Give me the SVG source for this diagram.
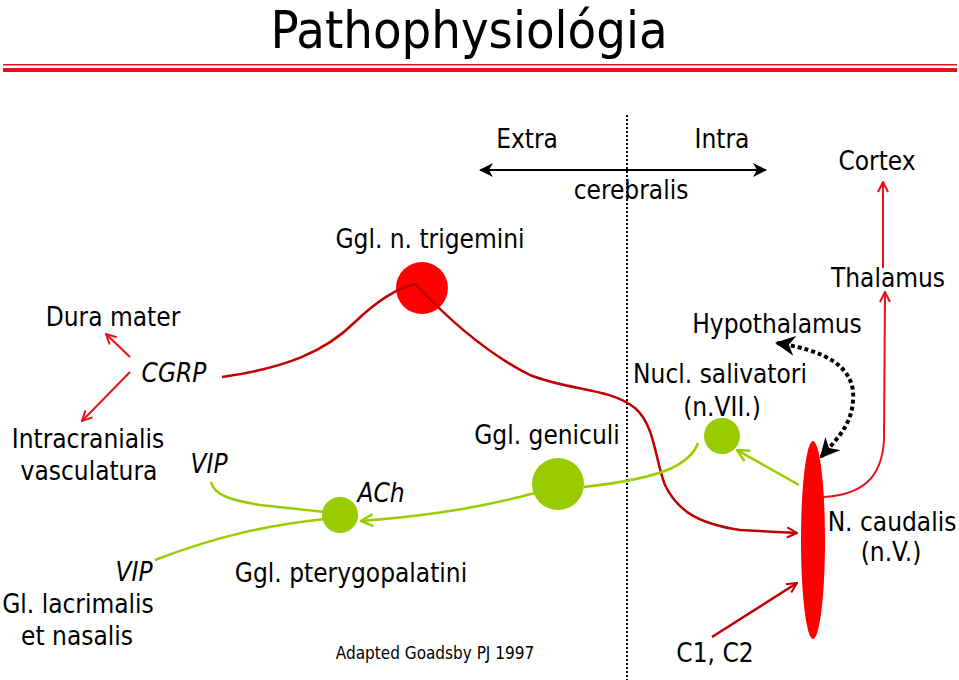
<svg xmlns="http://www.w3.org/2000/svg" width="959" height="680" viewBox="0 0 959 680">
<defs>
<style>
text{font-family:"DejaVu Sans Condensed","DejaVu Sans",sans-serif;fill:#000;font-size:26px}
.it{font-style:italic}
.dr{fill:none;stroke:#c00000;stroke-width:2.5}
.br{fill:none;stroke:#e8101a;stroke-width:2}
.gr{fill:none;stroke:#99cc00;stroke-width:2.5}
.gn{fill:#99cc00}
.rd{fill:#ff0000}
</style>
<marker id="aDr" viewBox="0 0 12 12" refX="11" refY="6" markerWidth="12" markerHeight="12" markerUnits="userSpaceOnUse" orient="auto"><path d="M1,1 L11,6 L1,11" fill="none" stroke="#c00000" stroke-width="2"/></marker>
<marker id="aBr" viewBox="0 0 12 12" refX="11" refY="6" markerWidth="12" markerHeight="12" markerUnits="userSpaceOnUse" orient="auto"><path d="M1,1 L11,6 L1,11" fill="none" stroke="#e8101a" stroke-width="2"/></marker>
<marker id="aGr" viewBox="0 0 14 14" refX="13" refY="7" markerWidth="14" markerHeight="14" markerUnits="userSpaceOnUse" orient="auto"><path d="M1,1 L13,7 L1,13" fill="none" stroke="#99cc00" stroke-width="2.5"/></marker>
<marker id="aBk" viewBox="0 0 14 14" refX="13" refY="7" markerWidth="14" markerHeight="14" markerUnits="userSpaceOnUse" orient="auto-start-reverse"><path d="M0,0 L14,7 L0,14 L4,7 Z" fill="#000"/></marker>
<marker id="aBkD" viewBox="0 0 20 20" refX="18" refY="10" markerWidth="20" markerHeight="20" markerUnits="userSpaceOnUse" orient="auto-start-reverse"><path d="M0,0 L20,10 L0,20 L6,10 Z" fill="#000"/></marker>
</defs>
<rect width="959" height="680" fill="#fff"/>

<g id="title">
<text x="469" y="48" text-anchor="middle" style="font-size:52px">Pathophysiológia</text>
<rect x="3" y="64" width="954" height="1.5" fill="#e8101a"/>
<rect x="3" y="68" width="954" height="4" fill="#e8101a"/>
</g>

<g id="legend">
<text x="527" y="148" text-anchor="middle">Extra</text>
<text x="722" y="148" text-anchor="middle">Intra</text>
<text x="631" y="199" text-anchor="middle">cerebralis</text>
<line x1="627" y1="115" x2="627" y2="680" stroke="#000" stroke-width="2" stroke-dasharray="2,2"/>
<line x1="480" y1="170" x2="766" y2="170" stroke="#000" stroke-width="2" marker-start="url(#aBk)" marker-end="url(#aBk)"/>
</g>

<g id="ggl-trigemini">
<circle class="rd" cx="422" cy="288" r="26"/>
<text x="430" y="248" text-anchor="middle">Ggl. n. trigemini</text>
</g>

<g id="connectors">
<path class="dr" d="M222,377 C285,368 325,352 355,322 C380,298 398,288 415,284"/>
<path class="dr" d="M415,284 C440,310 480,350 530,375 C570,391 610,388 635,408 C655,425 655,460 665,485 C678,512 700,524 740,530 L797,533" marker-end="url(#aDr)"/>
<path class="dr" d="M712,637 L797,583" marker-end="url(#aDr)"/>
<path class="br" d="M823,497 C862,495 882,478 884,440 L885,292" marker-end="url(#aBr)"/>
<path class="br" d="M883,268 L883,182" marker-end="url(#aBr)"/>
<path class="br" d="M130,357 L106,334" marker-end="url(#aBr)"/>
<path class="br" d="M130,372 L82,421" marker-end="url(#aBr)"/>
<path class="gr" d="M211,482 C214,495 230,500 260,505 L325,512"/>
<path class="gr" d="M325,519 C270,525 220,535 155,560"/>
<path class="gr" d="M535,493 C490,505 440,515 361,521" marker-end="url(#aGr)"/>
<path class="gr" d="M584,487 C620,483 650,478 672,468 C688,460 695,452 698,443"/>
<path class="gr" d="M799,485 L737,450" marker-end="url(#aGr)"/>
<path d="M777,343 C822,350 856,365 853,400 C852,425 836,440 821,457" fill="none" stroke="#000" stroke-width="4" stroke-dasharray="4,3" marker-start="url(#aBkD)" marker-end="url(#aBkD)"/>
</g>

<g id="ggl-pterygopalatini">
<circle class="gn" cx="340" cy="515" r="18"/>
<text x="351" y="582" text-anchor="middle">Ggl. pterygopalatini</text>
</g>
<g id="ggl-geniculi">
<circle class="gn" cx="558" cy="484" r="26"/>
<text x="547" y="444" text-anchor="middle">Ggl. geniculi</text>
</g>
<g id="nucl-salivatori">
<circle class="gn" cx="722" cy="436" r="18"/>
<text x="720" y="383" text-anchor="middle">Nucl. salivatori</text>
<text x="722" y="416" text-anchor="middle">(n.VII.)</text>
</g>
<g id="n-caudalis">
<ellipse class="rd" cx="813" cy="540" rx="12" ry="99"/>
<text x="892" y="531" text-anchor="middle">N. caudalis</text>
<text x="891" y="561" text-anchor="middle">(n.V.)</text>
</g>
<g id="hypothalamus"><text x="777" y="333" text-anchor="middle">Hypothalamus</text></g>
<g id="thalamus"><text x="888" y="287" text-anchor="middle">Thalamus</text></g>
<g id="cortex"><text x="877" y="170" text-anchor="middle">Cortex</text></g>
<g id="dura-mater"><text x="113" y="326" text-anchor="middle">Dura mater</text></g>
<g id="vasculatura">
<text x="88" y="448" text-anchor="middle">Intracranialis</text>
<text x="89" y="480" text-anchor="middle">vasculatura</text>
</g>
<g id="gl-lacrimalis">
<text x="78" y="613" text-anchor="middle">Gl. lacrimalis</text>
<text x="77" y="645" text-anchor="middle">et nasalis</text>
</g>
<g id="c1c2"><text x="715" y="662" text-anchor="middle">C1, C2</text></g>
<g id="labels">
<text class="it" x="174" y="382" text-anchor="middle">CGRP</text>
<text class="it" x="209" y="473" text-anchor="middle">VIP</text>
<text class="it" x="381" y="502" text-anchor="middle">ACh</text>
<text class="it" x="134" y="581" text-anchor="middle">VIP</text>
<text x="435" y="659" text-anchor="middle" style="font-size:17px">Adapted Goadsby PJ 1997</text>
</g>
</svg>
